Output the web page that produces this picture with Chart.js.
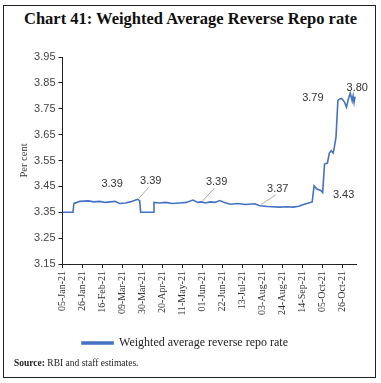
<!DOCTYPE html>
<html>
<head>
<meta charset="utf-8">
<script src="https://cdn.jsdelivr.net/npm/chart.js@4.4.0/dist/chart.umd.min.js"></script>
<style>
body { margin:0; background:#fff; width:381px; height:383px; overflow:hidden; position:relative; }
#frame { position:absolute; left:3px; top:5px; width:371px; height:371px; border:1.5px solid #222; }
#title { position:absolute; left:0; top:9px; width:381px; text-align:center; font:bold 16.5px "Liberation Serif"; color:#111; }
#rateChart { position:absolute; left:0; top:0; }
#source { position:absolute; left:14px; top:358px; font:9.5px "Liberation Serif"; color:#222; }
</style>
</head>
<body>
<div id="frame"></div>
<div id="title">Chart 41: Weighted Average Reverse Repo rate</div>
<canvas id="rateChart" width="381" height="383"></canvas>
<div id="source"><b>Source:</b> RBI and staff estimates.</div>
<script>
// Days counted from 05-Jan-21
const dayOffsets = [0, 11, 12, 18, 27, 33, 39, 45, 50, 55, 60, 66, 71, 76, 79, 81, 82, 95, 96, 102, 108, 115, 123, 130, 137, 142, 146, 150, 155, 160, 165, 170, 176, 184, 192, 202, 207, 215, 228, 235, 242, 248, 253, 260, 262, 264, 267, 271, 273, 275, 278, 280, 282, 284, 285, 287, 289, 291, 293, 296, 298, 300, 302, 304, 305, 306, 307];
const rates = [3.35, 3.35, 3.384, 3.392, 3.394, 3.39, 3.392, 3.388, 3.39, 3.392, 3.384, 3.386, 3.39, 3.396, 3.40, 3.395, 3.35, 3.35, 3.388, 3.386, 3.388, 3.384, 3.386, 3.388, 3.397, 3.388, 3.39, 3.386, 3.39, 3.388, 3.395, 3.388, 3.381, 3.384, 3.38, 3.383, 3.375, 3.372, 3.37, 3.371, 3.37, 3.373, 3.38, 3.388, 3.39, 3.452, 3.44, 3.434, 3.426, 3.536, 3.54, 3.579, 3.588, 3.579, 3.595, 3.64, 3.782, 3.788, 3.79, 3.775, 3.756, 3.788, 3.81, 3.78, 3.80, 3.775, 3.797];
const tickLabels = ['05-Jan-21', '26-Jan-21', '16-Feb-21', '09-Mar-21', '30-Mar-21', '20-Apr-21', '11-May-21', '01-Jun-21', '22-Jun-21', '13-Jul-21', '03-Aug-21', '24-Aug-21', '14-Sep-21', '05-Oct-21', '26-Oct-21'];
const seriesName = 'Weighted average reverse repo rate';

// Point labels: data index, text, offset, leader line
const callouts = [
    { i: 8, text: '3.39', dx: 2, dy: -18, leader: false },
    { i: 14, text: '3.39', dx: 13, dy: -18, leader: true },
    { i: 26, text: '3.39', dx: 15, dy: -20, leader: true },
    { i: 36, text: '3.37', dx: 18, dy: -17, leader: true },
    { i: 56, text: '3.79', dx: -25, dy: -3, leader: false },
    { i: 62, text: '3.80', dx: 7, dy: -5, leader: false },
    { i: 48, text: '3.43', dx: 21, dy: 2, leader: false }
];

const calloutPlugin = {
    id: 'callouts',
    afterDatasetsDraw(c) {
        const ctx = c.ctx;
        const meta = c.getDatasetMeta(0);
        ctx.save();
        ctx.font = '11px "Liberation Sans"';
        ctx.fillStyle = '#333';
        ctx.textAlign = 'center';
        ctx.textBaseline = 'middle';
        callouts.forEach(o => {
            const p = meta.data[o.i];
            const lx = p.x + o.dx, ly = p.y + o.dy;
            if (o.leader) {
                ctx.strokeStyle = '#aaa';
                ctx.lineWidth = 1;
                ctx.beginPath();
                ctx.moveTo(lx - 2, ly + 6);
                ctx.lineTo(p.x + 1, p.y - 1);
                ctx.stroke();
            }
            ctx.fillText(o.text, lx, ly);
        });
        ctx.restore();
    }
};

const ctx = document.getElementById('rateChart').getContext('2d');
new Chart(ctx, {
    type: 'line',
    data: {
        datasets: [{
            label: seriesName,
            data: dayOffsets.map((d, k) => ({ x: d, y: rates[k] })),
            borderColor: '#4472C4',
            backgroundColor: '#4472C4',
            borderWidth: 1.6,
            pointRadius: 0,
            tension: 0
        }]
    },
    options: {
        responsive: false,
        animation: false,
        layout: { padding: { top: 57, left: 14, right: 25, bottom: 24 } },
        plugins: {
            legend: {
                position: 'bottom',
                labels: {
                    font: { family: 'Liberation Serif', size: 12 },
                    color: '#222',
                    boxWidth: 31,
                    boxHeight: 2,
                    padding: 6
                }
            },
            tooltip: { enabled: false }
        },
        scales: {
            x: {
                type: 'linear',
                min: 0,
                max: 308,
                afterBuildTicks(s) { s.ticks = s.ticks.filter(t => t.value % 21 === 0); },
                afterFit(s) { s.height = 67; },
                ticks: {
                    stepSize: 21,
                    autoSkip: false,
                    maxRotation: 90,
                    minRotation: 90,
                    font: { family: 'Liberation Serif', size: 10 },
                    color: '#333',
                    callback: v => tickLabels[v / 21]
                },
                grid: { drawOnChartArea: false, drawTicks: true, tickLength: 4, color: '#222' },
                border: { color: '#222', width: 1 }
            },
            y: {
                min: 3.15,
                max: 3.95,
                afterFit(s) { s.width = 48.5; },
                ticks: {
                    stepSize: 0.1,
                    font: { family: 'Liberation Sans', size: 11 },
                    color: '#444',
                    callback: v => v.toFixed(2)
                },
                title: { display: true, text: 'Per cent', font: { family: 'Liberation Serif', size: 10.5 }, color: '#333' },
                grid: { drawOnChartArea: false, drawTicks: true, tickLength: 4, color: '#222' },
                border: { color: '#222', width: 1 }
            }
        }
    },
    plugins: [calloutPlugin]
});
</script>
</body>
</html>
